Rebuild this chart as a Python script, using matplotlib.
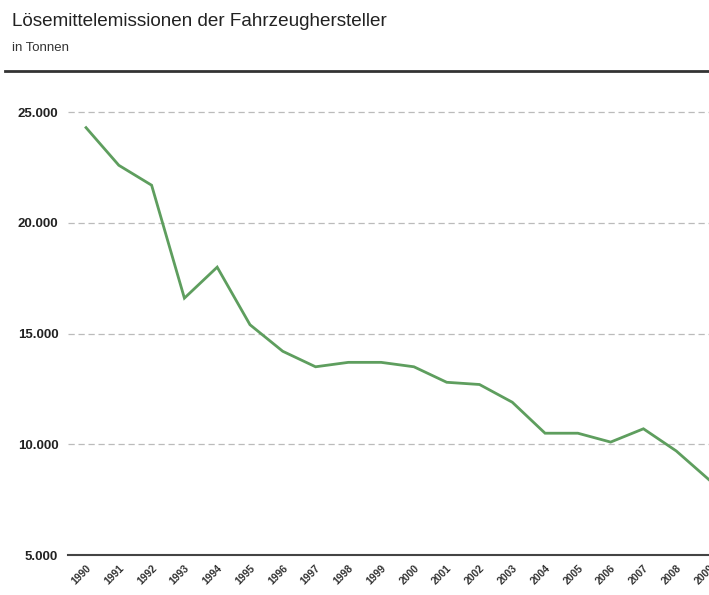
import matplotlib

matplotlib.use("Agg")
import matplotlib.pyplot as plt
from matplotlib.lines import Line2D
from matplotlib.ticker import FuncFormatter

years = list(range(1990, 2010))
emissions = [24300, 22600, 21700, 16600, 18000, 15400, 14200, 13500, 13700, 13700,
             13500, 12800, 12700, 11900, 10500, 10500, 10100, 10700, 9700, 8400]
y_ticks = [5000, 10000, 15000, 20000, 25000]

title = "Lösemittelemissionen der Fahrzeughersteller"
subtitle = "in Tonnen"

plt.rcParams["font.family"] = ["Liberation Sans", "DejaVu Sans"]

fig = plt.figure(figsize=(7.09, 5.95), dpi=100)
ax = fig.add_axes([68 / 709, 1 - 555 / 595, 1 - 68 / 709, (555 - 90) / 595])

ax.plot(years, emissions, color="#5e9e5e", linewidth=2.0, solid_joinstyle="miter")

ax.set_xlim(1989.45, 2009)
ax.set_ylim(5000, 26000)
ax.set_yticks(y_ticks)
ax.yaxis.set_major_formatter(FuncFormatter(lambda v, _: f"{int(v):,}".replace(",", ".")))
ax.set_xticks(years)
ax.set_xticklabels([str(y) for y in years], rotation=45, ha="right",
                   rotation_mode="anchor", fontsize=7.5, fontweight="bold",
                   color="#333333")
ax.tick_params(axis="both", length=0)
ax.tick_params(axis="y", labelsize=9.5, pad=7, labelcolor="#222222")
for lbl in ax.get_yticklabels():
    lbl.set_fontweight("bold")
ax.tick_params(axis="x", pad=6)

# dashed grid lines above the baseline
for t in y_ticks[1:]:
    ax.axhline(t, color="#bbbbbb", linewidth=0.9, linestyle=(0, (5, 3)), zorder=0)

for side in ["top", "right", "left"]:
    ax.spines[side].set_visible(False)
ax.spines["bottom"].set_color("#444444")
ax.spines["bottom"].set_linewidth(1.5)

fig.text(12 / 709, 1 - 22 / 595, title, fontsize=13.6, color="#222222", va="center")
fig.text(12 / 709, 1 - 48 / 595, subtitle, fontsize=9.5, color="#333333", va="center")
fig.add_artist(Line2D([5 / 709, 1.0], [1 - 71 / 595, 1 - 71 / 595],
                      color="#333333", linewidth=2.0, transform=fig.transFigure))

fig.savefig("out.png", dpi=100)
plt.close(fig)
